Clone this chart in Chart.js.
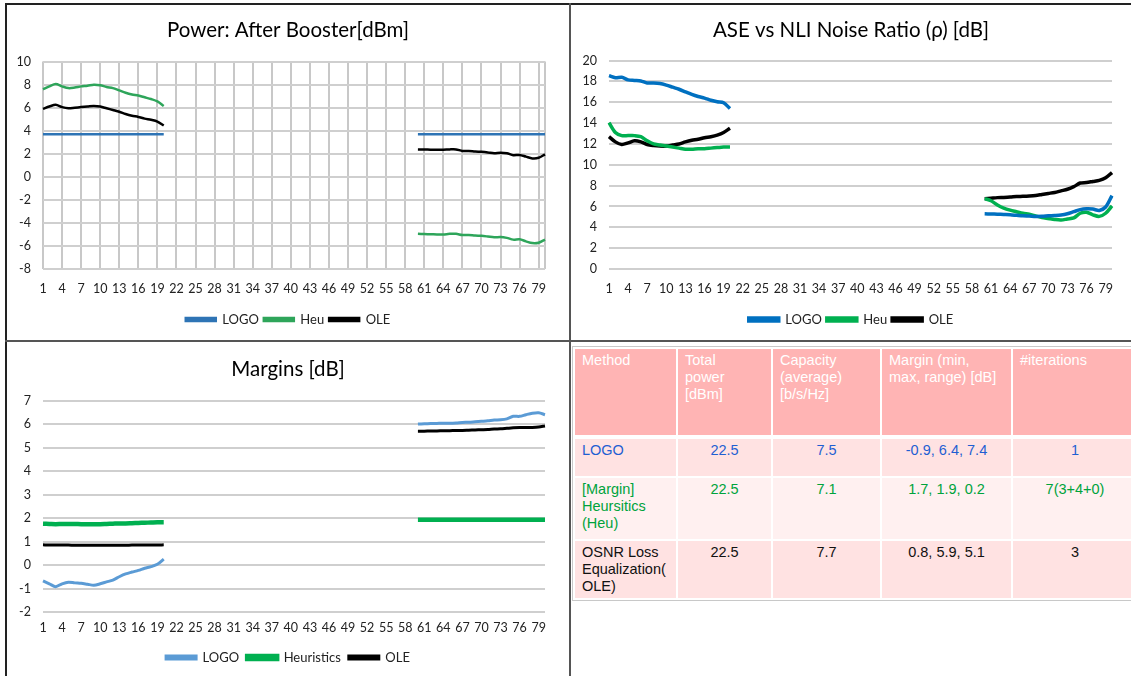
<!DOCTYPE html>
<html>
<head>
<meta charset="utf-8">
<script src="https://cdn.jsdelivr.net/npm/chart.js@4/dist/chart.umd.min.js"></script>
<style>
  body { margin: 0; background: #fff; width: 1131px; height: 676px; overflow: hidden; position: relative; }
  .box { position: absolute; }
  .line { position: absolute; background: #555; }
  .wrap { position: absolute; left: 571px; top: 343px; width: 560px; height: 333px; overflow: hidden; }
  table { position: absolute; left: 1px; top: 3px; width: 567px; border-collapse: separate; border-spacing: 2px 2px;
          font-family: "Liberation Sans", Arial, sans-serif; font-size: 14.5px; line-height: 17px;
          border: 1px solid #c8c8c8; border-right: none; table-layout: fixed; }
  td, th { vertical-align: top; padding: 3px 7px; box-sizing: border-box; overflow: hidden; }
  th { background: #ffb4b4; color: #fff; font-weight: normal; text-align: left; height: 86px; }
  td { text-align: center; }
  td:first-child { text-align: left; }
</style>
</head>
<body>
<div class="line" style="left:5px;top:3px;width:1126px;height:1.5px;background:#222"></div>
<div class="line" style="left:5px;top:3px;width:1.5px;height:673px;background:#222"></div>
<div class="line" style="left:569px;top:3px;width:2px;height:673px"></div>
<div class="line" style="left:5px;top:340px;width:1126px;height:2px"></div>

<div class="box" style="left:7px;top:5px;width:562px;height:335px"><canvas id="power"></canvas></div>
<div class="box" style="left:571px;top:5px;width:560px;height:335px"><canvas id="ratio"></canvas></div>
<div class="box" style="left:7px;top:342px;width:562px;height:334px"><canvas id="margins"></canvas></div>

<div class="wrap"><table id="tbl"></table></div>

<script>
const channels = [1,2,3,4,5,6,7,8,9,10,11,12,13,14,15,16,17,18,19,20,
  21,22,23,24,25,26,27,28,29,30,31,32,33,34,35,36,37,38,39,40,
  41,42,43,44,45,46,47,48,49,50,51,52,53,54,55,56,57,58,59,60,
  61,62,63,64,65,66,67,68,69,70,71,72,73,74,75,76,77,78,79,80];

// channels 1-20 (low band) and 60-80 (high band), nothing in between
const powerLogoLow = [3.7,3.7,3.7,3.7,3.7,3.7,3.7,3.7,3.7,3.7,3.7,3.7,3.7,3.7,3.7,3.7,3.7,3.7,3.7,3.7];
const powerLogoHigh = [3.7,3.7,3.7,3.7,3.7,3.7,3.7,3.7,3.7,3.7,3.7,3.7,3.7,3.7,3.7,3.7,3.7,3.7,3.7,3.7,3.7];
const powerHeuLow = [7.6,7.85,8.05,7.85,7.7,7.75,7.85,7.9,8.0,7.95,7.8,7.7,7.5,7.3,7.15,7.05,6.9,6.75,6.55,6.15];
const powerHeuHigh = [-4.95,-4.97,-4.98,-5.0,-5.0,-4.95,-4.95,-5.05,-5.05,-5.1,-5.12,-5.18,-5.25,-5.22,-5.3,-5.45,-5.42,-5.6,-5.75,-5.72,-5.45];
const powerOleLow = [5.9,6.1,6.25,6.05,5.95,6.0,6.05,6.1,6.15,6.1,5.95,5.8,5.65,5.45,5.3,5.2,5.05,4.95,4.8,4.45];
const powerOleHigh = [2.38,2.37,2.36,2.35,2.35,2.38,2.38,2.25,2.25,2.2,2.17,2.12,2.05,2.1,2.05,1.88,1.9,1.75,1.6,1.65,1.95];

const rhoLogoLow = [18.55,18.35,18.4,18.15,18.1,18.05,17.85,17.85,17.8,17.65,17.45,17.25,17.0,16.75,16.55,16.4,16.2,16.05,15.95,15.4];
const rhoLogoHigh = [5.3,5.28,5.26,5.23,5.2,5.15,5.1,5.08,5.05,5.06,5.1,5.13,5.18,5.3,5.5,5.7,5.78,5.75,5.62,5.95,7.05];
const rhoHeuLow = [14.05,13.1,12.8,12.8,12.8,12.7,12.3,12.0,11.9,11.8,11.7,11.6,11.5,11.5,11.55,11.55,11.6,11.65,11.7,11.7];
const rhoHeuHigh = [6.75,6.55,6.15,5.85,5.65,5.5,5.35,5.25,5.1,4.95,4.85,4.75,4.7,4.8,4.9,5.35,5.45,5.2,5.05,5.35,6.05];
const rhoOleLow = [12.7,12.2,11.95,12.1,12.3,12.2,11.95,11.85,11.8,11.8,11.9,12.0,12.2,12.35,12.45,12.6,12.7,12.85,13.1,13.5];
const rhoOleHigh = [6.75,6.8,6.85,6.87,6.9,6.95,6.97,7.0,7.05,7.15,7.25,7.35,7.5,7.65,7.9,8.25,8.3,8.4,8.5,8.75,9.25];

const marginLogoLow = [-0.68,-0.8,-0.92,-0.8,-0.73,-0.76,-0.78,-0.82,-0.86,-0.8,-0.72,-0.64,-0.5,-0.38,-0.3,-0.23,-0.14,-0.07,0.03,0.25];
const marginLogoHigh = [6.0,6.01,6.02,6.03,6.04,6.04,6.05,6.07,6.08,6.1,6.12,6.14,6.17,6.18,6.22,6.33,6.33,6.4,6.46,6.48,6.4];
const marginHeuLow = [1.76,1.75,1.74,1.75,1.75,1.75,1.74,1.74,1.74,1.74,1.75,1.76,1.77,1.77,1.78,1.79,1.8,1.81,1.82,1.82];
const marginHeuHigh = [1.93,1.93,1.93,1.93,1.93,1.93,1.93,1.93,1.93,1.93,1.93,1.93,1.93,1.93,1.93,1.93,1.93,1.93,1.93,1.93,1.93];
const marginOleLow = [0.86,0.85,0.85,0.85,0.85,0.84,0.84,0.84,0.84,0.84,0.84,0.84,0.84,0.84,0.85,0.85,0.85,0.85,0.85,0.86];
const marginOleHigh = [5.7,5.7,5.71,5.71,5.72,5.72,5.73,5.73,5.74,5.75,5.76,5.77,5.79,5.8,5.82,5.84,5.85,5.85,5.86,5.88,5.92];

const tableHead = ["Method", "Total power [dBm]", "Capacity (average) [b/s/Hz]", "Margin (min, max, range) [dB]", "#iterations"];
const tableMethods = ["LOGO", "[Margin] Heursitics (Heu)", "OSNR Loss Equalization( OLE)"];
const tablePower = ["22.5", "22.5", "22.5"];
const tableCapacity = ["7.5", "7.1", "7.7"];
const tableMargin = ["-0.9, 6.4, 7.4", "1.7, 1.9, 0.2", "0.8, 5.9, 5.1"];
const tableIterations = ["1", "7(3+4+0)", "3"];

const FONT = "Lato, 'Open Sans', sans-serif";

function fullSeries(low, high) {
  const gap = new Array(channels.length - low.length - high.length).fill(null);
  return low.concat(gap, high);
}

function makeChart(id, title, series, y, look) {
  const ctx = document.getElementById(id).getContext("2d");
  return new Chart(ctx, {
    type: 'line',
    data: {
      labels: channels,
      datasets: series.map(s => ({
        label: s.label,
        data: fullSeries(s.low, s.high),
        borderColor: s.color,
        backgroundColor: s.color,
        borderWidth: s.width,
        pointRadius: 0,
        tension: 0.3,
        spanGaps: false
      }))
    },
    options: {
      responsive: true,
      maintainAspectRatio: false,
      animation: false,
      layout: { padding: { left: 0, right: 0, top: 0, bottom: look.bottom } },
      plugins: {
        title: {
          display: true, text: title, color: '#000',
          font: { family: FONT, size: 20.5, weight: 'normal' },
          padding: { top: look.titleTop, bottom: look.titleBottom }
        },
        legend: {
          position: 'bottom',
          labels: {
            color: '#222', boxWidth: 30, boxHeight: 3, padding: look.legendPad,
            font: { family: FONT, size: 13 }
          }
        },
        tooltip: { enabled: false }
      },
      scales: {
        x: {
          offset: false,
          border: { display: false },
          grid: { display: look.vGrid, color: '#c8c8c8', lineWidth: 2, drawTicks: false },
          ticks: {
            autoSkip: false, maxRotation: 0, padding: look.tickPad, color: '#222',
            font: { family: FONT, size: 12.5 },
            callback: function (v, i) {
              if (i % 3 === 0) return channels[i];
              if (i === channels.length - 1) return '';
              return null;
            }
          }
        },
        y: {
          min: y.min, max: y.max,
          border: { display: false },
          afterFit: function (scale) { scale.width = look.yWidth; },
          grid: { color: '#cfcfcf', lineWidth: 2, drawTicks: false },
          ticks: {
            stepSize: y.step, padding: 12, color: '#222',
            font: { family: FONT, size: 12.5 }
          }
        },
        // empty right-hand axis: keeps the plot clear of the right edge
        // while title and legend stay centred on the whole panel
        spacer: {
          position: 'right',
          display: true,
          border: { display: false },
          grid: { display: false },
          ticks: { display: false },
          afterFit: function (scale) { scale.width = look.rightGap; }
        }
      }
    }
  });
}

makeChart("power", "Power: After Booster[dBm]", [
  { label: "LOGO", low: powerLogoLow, high: powerLogoHigh, color: '#2e74b5', width: 2.5 },
  { label: "Heu", low: powerHeuLow, high: powerHeuHigh, color: '#2ea55a', width: 2.5 },
  { label: "OLE", low: powerOleLow, high: powerOleHigh, color: '#000000', width: 2.5 }
], { min: -8, max: 10, step: 2 },
{ vGrid: true, yWidth: 36, rightGap: 24, bottom: 4, legendPad: 5, tickPad: 12, titleTop: 13, titleBottom: 19 });

makeChart("ratio", "ASE vs NLI Noise Ratio (\u03c1) [dB]", [
  { label: "LOGO", low: rhoLogoLow, high: rhoLogoHigh, color: '#0070c0', width: 3.5 },
  { label: "Heu", low: rhoHeuLow, high: rhoHeuHigh, color: '#00b050', width: 3.5 },
  { label: "OLE", low: rhoOleLow, high: rhoOleHigh, color: '#000000', width: 3.5 }
], { min: 0, max: 20, step: 2 },
{ vGrid: false, yWidth: 38, rightGap: 19, bottom: 4, legendPad: 5, tickPad: 12, titleTop: 13, titleBottom: 18 });

makeChart("margins", "Margins [dB]", [
  { label: "LOGO", low: marginLogoLow, high: marginLogoHigh, color: '#5b9bd5', width: 3 },
  { label: "Heuristics", low: marginHeuLow, high: marginHeuHigh, color: '#00b050', width: 4.5 },
  { label: "OLE", low: marginOleLow, high: marginOleHigh, color: '#000000', width: 3 }
], { min: -2, max: 7, step: 1 },
{ vGrid: false, yWidth: 36, rightGap: 24, bottom: 2, legendPad: 8, tickPad: 8, titleTop: 15, titleBottom: 19 });

// results table
const rowColors = ['#1f5fd2', '#00a33c', '#111'];
const rowBg = ['#ffe2e2', '#fff0f0', '#ffe2e2'];
const rowHeights = [39, 61, 57];
const colWidths = [101, 93, 107, 129, 124];
const tbl = document.getElementById("tbl");
let html = '<tr>' + tableHead.map((h, i) =>
  `<th style="width:${colWidths[i]}px;${i === 1 ? 'padding-right:14px' : ''}">${h}</th>`).join('') + '</tr>';
tableMethods.forEach((m, r) => {
  const cells = [m, tablePower[r], tableCapacity[r], tableMargin[r], tableIterations[r]];
  const top = r === 0 ? 'border-top:2px solid #fff;background-clip:padding-box;' : '';
  html += '<tr>' + cells.map(c =>
    `<td style="height:${rowHeights[r]}px;${top}background-color:${rowBg[r]};color:${rowColors[r]}">${c}</td>`).join('') + '</tr>';
});
tbl.innerHTML = html;
</script>
</body>
</html>
